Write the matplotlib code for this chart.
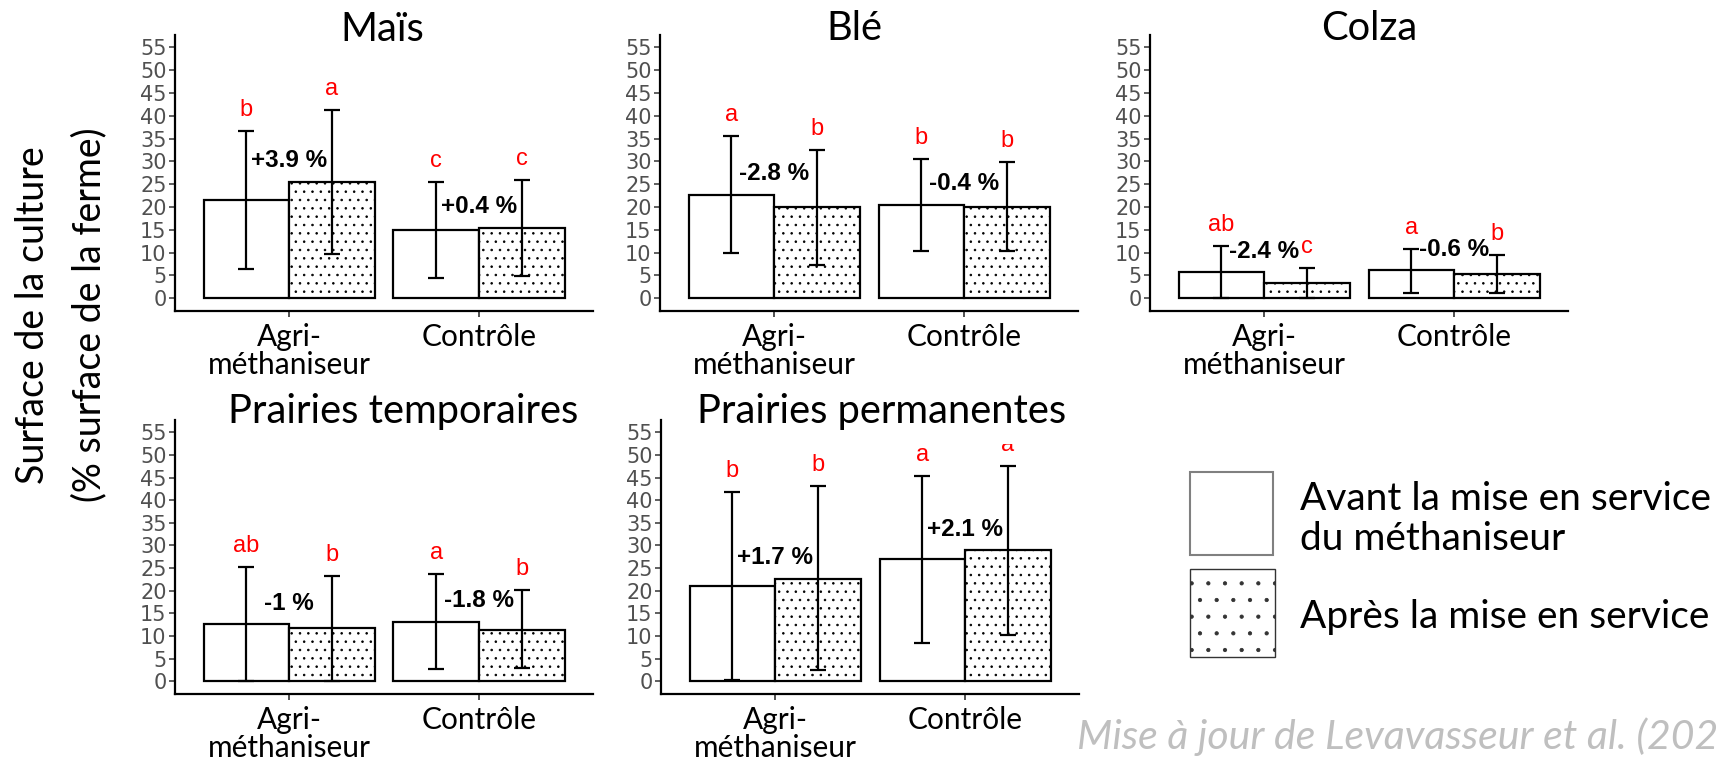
import numpy as np
import matplotlib.pyplot as plt
from matplotlib.patches import Rectangle
from matplotlib.transforms import Bbox, TransformedBbox

plt.rcParams['font.family'] = ['Lato', 'DejaVu Sans']
plt.rcParams['hatch.linewidth'] = 0.6

cultures = ["Maïs", "Blé", "Colza", "Prairies temporaires", "Prairies permanentes"]
groupes = ["Agri-\nméthaniseur", "Contrôle"]

# valeurs [agri-méthaniseur, contrôle] pour chaque culture
avant_moy = [[21.6, 15.0], [22.7, 20.5], [5.7, 6.1], [12.6, 13.2], [21.0, 26.9]]
avant_bas = [[6.4, 4.5], [9.9, 10.3], [0.0, 1.2], [0.0, 2.7], [0.3, 8.4]]
avant_haut = [[36.7, 25.5], [35.6, 30.5], [11.4, 10.9], [25.3, 23.8], [41.8, 45.4]]
apres_moy = [[25.5, 15.4], [19.9, 19.9], [3.3, 5.4], [11.7, 11.4], [22.7, 29.0]]
apres_bas = [[9.6, 4.8], [7.2, 10.3], [0.0, 1.2], [0.0, 2.9], [2.4, 10.3]]
apres_haut = [[41.3, 26.0], [32.6, 29.9], [6.6, 9.5], [23.3, 20.1], [43.2, 47.6]]

lettres_avant = [["b", "c"], ["a", "b"], ["ab", "a"], ["ab", "a"], ["b", "a"]]
lettres_apres = [["a", "c"], ["b", "b"], ["c", "b"], ["b", "b"], ["b", "a"]]
evolution = [[3.9, 0.4], [-2.8, -0.4], [-2.4, -0.6], [-1, -1.8], [1.7, 2.1]]

legende = ["Avant la mise en service", "du méthaniseur", "Après la mise en service"]
source = "Mise à jour de Levavasseur et al. (202"

W, H = 1723, 759
fig = plt.figure(figsize=(W / 100, H / 100), dpi=100)

# calque en pixels pour les textes libres et la légende
ov = fig.add_axes([0, 0, 1, 1])
ov.set_xlim(0, W)
ov.set_ylim(H, 0)
ov.axis('off')

# boites des panneaux (gauche, haut, droite, bas) en pixels
boites = [(175, 35, 593, 311), (660, 35, 1078, 311), (1150, 35, 1568, 311),
          (175, 420, 593, 694), (661, 420, 1079, 694)]
titres_xy = [(382, 41), (854, 40), (1369, 40), (403, 423), (882, 423)]

x = np.array([1, 2])
w = 0.45
for i, cult in enumerate(cultures):
    l, t, r, b = boites[i]
    ax = fig.add_axes([l / W, 1 - b / H, (r - l) / W, (b - t) / H])
    ax.set_facecolor('none')
    am = np.array(avant_moy[i]); pm = np.array(apres_moy[i])
    ax.bar(x - w / 2, am, w, facecolor='white', edgecolor='black', lw=1.6, zorder=2)
    ax.bar(x + w / 2, pm, w, facecolor='white', edgecolor='black', lw=1.6,
           hatch='..', zorder=2)
    ax.errorbar(x - w / 2, am, yerr=[am - np.array(avant_bas[i]), np.array(avant_haut[i]) - am],
                fmt='none', ecolor='black', elinewidth=1.6, capsize=6, capthick=1.6, zorder=3)
    ax.errorbar(x + w / 2, pm, yerr=[pm - np.array(apres_bas[i]), np.array(apres_haut[i]) - pm],
                fmt='none', ecolor='black', elinewidth=1.6, capsize=6, capthick=1.6, zorder=3)

    # le haut du panneau d'origine masque la lettre la plus haute
    clip = TransformedBbox(Bbox([[0.4, -3], [2.6, 52.4]]), ax.transData)
    for j in range(2):
        for xx, yy, lt in [(x[j] - w / 2, avant_haut[i][j], lettres_avant[i][j]),
                           (x[j] + w / 2, apres_haut[i][j], lettres_apres[i][j])]:
            tx = ax.text(xx, yy + 4.6, lt, color='red', ha='center', va='center',
                         fontsize=17, family='Liberation Sans', zorder=4)
            tx.set_clip_box(clip)
            tx.set_clip_on(True)
        ev = evolution[i][j]
        ax.text(x[j], max(am[j], pm[j]) + 4.6, f"{ev:+g} %", ha='center', va='center',
                fontsize=17.5, fontweight='bold', family='Liberation Sans', zorder=4)

    ax.set_xlim(0.4, 2.6)
    ax.set_ylim(-2.8, 57.7)
    ax.spines[['top', 'right']].set_visible(False)
    for s in ['left', 'bottom']:
        ax.spines[s].set_linewidth(1.6)
    ax.set_yticks(range(0, 56, 5))
    ax.set_yticklabels([str(v) for v in range(0, 56, 5)], family='DejaVu Sans',
                       fontsize=15, color='#505050')
    ax.tick_params(axis='y', length=4, width=1.2, color='#444444', pad=2)
    ax.set_xticks(x)
    ax.set_xticklabels(groupes, fontsize=21.5, linespacing=1.0)
    ax.tick_params(axis='x', length=4, width=1.2, color='#333333', pad=4.5)

    tx_, ty_ = titres_xy[i]
    ov.text(tx_, ty_, cult, ha='center', va='baseline', fontsize=28.7)

# titre de l'axe y
ov.text(33, 315, "Surface de la culture", rotation=90, ha='center', va='center', fontsize=27)
ov.text(89, 315, "(% surface de la ferme)", rotation=90, ha='center', va='center', fontsize=27)

# légende
ov.add_patch(Rectangle((1190, 472), 83, 83, facecolor='white', edgecolor='#808080', lw=1.5))
ov.add_patch(Rectangle((1190, 569), 85, 88, facecolor='white', edgecolor='#333333', lw=1.0,
                       hatch='.'))
ov.text(1300, 510, legende[0], va='baseline', fontsize=28)
ov.text(1300, 550, legende[1], va='baseline', fontsize=28)
ov.text(1300, 628, legende[2], va='baseline', fontsize=28)

# source (tronquée au bord droit comme dans l'original)
ov.text(1718, 749, source, ha='right', va='baseline', fontsize=29.5, style='italic',
        color='#bfbfbf')

fig.savefig('out.png', dpi=100)
